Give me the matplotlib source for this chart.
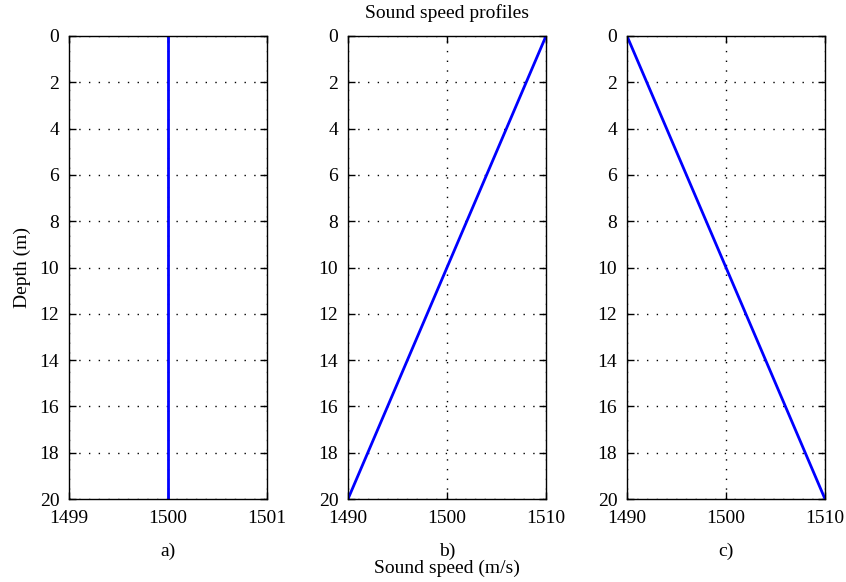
import matplotlib
matplotlib.use('Agg')
import matplotlib.pyplot as plt

# sound speed profiles, depth in metres
depth = [0, 20]
speed_a = [1500, 1500]
speed_b = [1510, 1490]
speed_c = [1490, 1510]

xticks_a = [1499, 1500, 1501]
xticks_bc = [1490, 1500, 1510]
yticks = list(range(0, 21, 2))
panel_labels = ['a)', 'b)', 'c)']

plt.rcParams['font.family'] = ['Liberation Serif', 'DejaVu Serif']
plt.rcParams['font.size'] = 14

fig = plt.figure(figsize=(8.46, 5.82), dpi=100)
lefts = [69 / 846, 348 / 846, 627 / 846]
w = 198 / 846
b = 83 / 582
h = 463 / 582

profiles = [speed_a, speed_b, speed_c]
xticks_all = [xticks_a, xticks_bc, xticks_bc]

axes = []
for i in range(3):
    ax = fig.add_axes([lefts[i], b, w, h])
    ax.plot(profiles[i], depth, color='#0000ff', linewidth=2)
    ax.set_xlim(xticks_all[i][0], xticks_all[i][-1])
    ax.set_ylim(20, 0)
    ax.set_xticks(xticks_all[i])
    ax.set_yticks(yticks)
    ax.grid(True, color='black', linestyle=(0, (1, 6)), linewidth=1)
    ax.tick_params(direction='in', length=5, width=1, top=True, right=True,
                   labelsize=14)
    ax.tick_params(axis='x', pad=8)
    ax.tick_params(axis='y', pad=7)
    for s in ax.spines.values():
        s.set_linewidth(1)
    ax.set_xlabel(panel_labels[i], labelpad=11)
    axes.append(ax)

axes[0].set_ylabel('Depth (m)', labelpad=6)
fig.text(0.5285, 1 - 13 / 582, 'Sound speed profiles', ha='center', va='center', fontsize=14)
fig.text(0.5285, 1 - 568 / 582, 'Sound speed (m/s)', ha='center', va='center', fontsize=14)

plt.savefig('out.png', dpi=100)
